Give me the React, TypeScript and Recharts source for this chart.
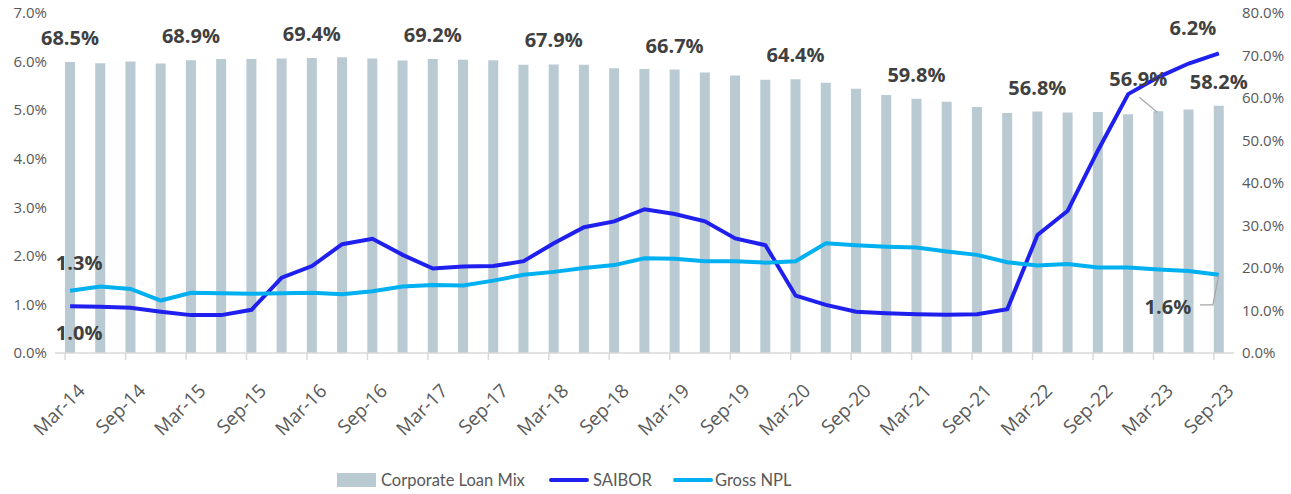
import React from 'react';
import { ComposedChart, Bar, Line, XAxis, YAxis, LabelList, Legend } from 'recharts';

const QUARTERS = [
  'Mar-14', 'Jun-14', 'Sep-14', 'Dec-14',
  'Mar-15', 'Jun-15', 'Sep-15', 'Dec-15',
  'Mar-16', 'Jun-16', 'Sep-16', 'Dec-16',
  'Mar-17', 'Jun-17', 'Sep-17', 'Dec-17',
  'Mar-18', 'Jun-18', 'Sep-18', 'Dec-18',
  'Mar-19', 'Jun-19', 'Sep-19', 'Dec-19',
  'Mar-20', 'Jun-20', 'Sep-20', 'Dec-20',
  'Mar-21', 'Jun-21', 'Sep-21', 'Dec-21',
  'Mar-22', 'Jun-22', 'Sep-22', 'Dec-22',
  'Mar-23', 'Jun-23', 'Sep-23',
];

// Corporate loan mix, % (right axis)
const LOAN_MIX = [
  68.5, 68.2, 68.6, 68.1, 68.9, 69.2, 69.2, 69.3, 69.4, 69.6,
  69.3, 68.8, 69.2, 69.0, 68.9, 67.8, 67.9, 67.8, 67.0, 66.8,
  66.7, 66.0, 65.3, 64.3, 64.4, 63.6, 62.2, 60.7, 59.8, 59.1,
  57.9, 56.5, 56.8, 56.6, 56.7, 56.2, 56.9, 57.3, 58.2,
];

// SAIBOR, % (left axis)
const SAIBOR = [
  0.96, 0.95, 0.93, 0.85, 0.78, 0.78, 0.89, 1.55, 1.79, 2.24,
  2.35, 2.02, 1.74, 1.78, 1.79, 1.89, 2.26, 2.59, 2.71, 2.96,
  2.86, 2.71, 2.36, 2.22, 1.18, 0.99, 0.85, 0.82, 0.8, 0.79,
  0.8, 0.9, 2.43, 2.93, 4.17, 5.33, 5.68, 5.96, 6.17,
];

// Gross NPL ratio, % (left axis)
const GROSS_NPL = [
  1.28, 1.37, 1.32, 1.08, 1.24, 1.23, 1.22, 1.23, 1.24, 1.21,
  1.27, 1.37, 1.4, 1.39, 1.49, 1.61, 1.67, 1.75, 1.81, 1.95,
  1.94, 1.89, 1.89, 1.86, 1.89, 2.26, 2.22, 2.19, 2.17, 2.09,
  2.02, 1.87, 1.8, 1.83, 1.76, 1.76, 1.72, 1.69, 1.61,
];

const LEFT_TICKS = [0, 1, 2, 3, 4, 5, 6, 7];
const RIGHT_TICKS = [0, 10, 20, 30, 40, 50, 60, 70, 80];
const LOAN_LABEL_IDX = [0, 4, 8, 12, 16, 20, 24, 28, 32, 36, 38];

const BAR_COLOR = '#bacad3';
const SAIBOR_COLOR = '#2020ee';
const NPL_COLOR = '#00b0f0';
const TICK_COLOR = '#595959';
const LABEL_COLOR = '#404040';
const AXIS_COLOR = '#d9d9d9';
const FONT = '"Open Sans", sans-serif';

const data = QUARTERS.map((quarter, i) => ({
  quarter,
  loanMix: LOAN_MIX[i],
  saibor: SAIBOR[i],
  npl: GROSS_NPL[i],
}));

const pct = (v: number) => `${v.toFixed(1)}%`;

function pos(props: any) {
  const vb = props.viewBox ?? {};
  return {
    x: Number(props.x ?? vb.x),
    y: Number(props.y ?? vb.y),
    width: Number(props.width ?? vb.width ?? 0),
  };
}

function BigText({ x, y, value, anchor = 'middle' }: { x: number; y: number; value: string; anchor?: string }) {
  return (
    <text
      x={x}
      y={y}
      textAnchor={anchor as any}
      fontFamily={FONT}
      fontSize={20}
      fontWeight={700}
      fill={LABEL_COLOR}
    >
      {value}
    </text>
  );
}

function LoanLabel(props: any) {
  const { index, value } = props;
  if (!LOAN_LABEL_IDX.includes(index)) return null;
  const { x, y, width } = pos(props);
  const cx = x + width / 2;
  if (index === 36) {
    return (
      <g>
        <line x1={cx - 19} y1={y - 14} x2={cx - 1} y2={y + 1} stroke="#a6a6a6" strokeWidth={1.2} />
        <BigText x={cx - 20} y={y - 25} value={pct(value)} />
      </g>
    );
  }
  return <BigText x={cx} y={y - 17} value={pct(value)} />;
}

function SaiborLabel(props: any) {
  const { index, value } = props;
  const { x, y } = pos(props);
  if (index === 0) return <BigText x={x + 9} y={y + 34} value={pct(value)} />;
  if (index === SAIBOR.length - 1) return <BigText x={x - 26} y={y - 18} value={pct(value)} />;
  return null;
}

function NplLabel(props: any) {
  const { index, value } = props;
  const { x, y } = pos(props);
  if (index === 0) return <BigText x={x + 9} y={y - 21} value={pct(value)} />;
  if (index === GROSS_NPL.length - 1) {
    return (
      <g>
        <polyline
          points={`${x},${y} ${x - 6},${y + 30} ${x - 19},${y + 30}`}
          fill="none"
          stroke="#a6a6a6"
          strokeWidth={1.2}
        />
        <BigText x={x - 51} y={y + 39} value={pct(value)} />
      </g>
    );
  }
  return null;
}

function XTick({ x, y, payload }: any) {
  const tx = x - 5;
  const ax = tx + 21;
  const ay = y + 39;
  return (
    <g>
      <line x1={tx} y1={y} x2={tx} y2={y + 7} stroke={AXIS_COLOR} strokeWidth={1.5} />
      <text
        x={ax}
        y={ay}
        textAnchor="end"
        transform={`rotate(-45 ${ax} ${ay})`}
        fontFamily={FONT}
        fontSize={19}
        fill={TICK_COLOR}
      >
        {payload.value}
      </text>
    </g>
  );
}

function LegendContent() {
  const item = { position: 'absolute', top: 0, height: 24, display: 'flex', alignItems: 'center' } as const;
  return (
    <div
      style={{
        position: 'relative',
        height: 24,
        fontFamily: 'Lato, sans-serif',
        fontSize: 16.5,
        color: TICK_COLOR,
        whiteSpace: 'nowrap',
      }}
    >
      <span style={{ ...item, left: 0 }}>
        <span style={{ display: 'inline-block', width: 39, height: 14, background: BAR_COLOR, marginRight: 5 }} />
        Corporate Loan Mix
      </span>
      <span style={{ ...item, left: 212 }}>
        <span style={{ display: 'inline-block', width: 40, height: 4, borderRadius: 2, background: SAIBOR_COLOR, marginRight: 4 }} />
        SAIBOR
      </span>
      <span style={{ ...item, left: 336 }}>
        <span style={{ display: 'inline-block', width: 40, height: 4, borderRadius: 2, background: NPL_COLOR, marginRight: 2 }} />
        Gross NPL
      </span>
    </div>
  );
}

export default function App() {
  return (
    <div style={{ position: 'absolute', left: 0, top: 0, width: 1291, height: 494, background: '#fff' }}>
      <ComposedChart width={1291} height={494} data={data} margin={{ top: 13, right: 0, bottom: 0, left: 0 }}>
        <XAxis
          dataKey="quarter"
          interval={1}
          height={141}
          tick={<XTick />}
          tickLine={false}
          tickSize={0}
          tickMargin={0}
          axisLine={{ stroke: AXIS_COLOR, strokeWidth: 1.5 }}
        />
        <YAxis
          yAxisId="left"
          orientation="left"
          width={55}
          domain={[0, 7]}
          ticks={LEFT_TICKS}
          tickFormatter={pct}
          axisLine={false}
          tickLine={false}
          tickSize={0}
          tickMargin={8}
          tick={{ fill: TICK_COLOR, fontSize: 15, fontFamily: FONT }}
        />
        <YAxis
          yAxisId="right"
          orientation="right"
          width={57}
          domain={[0, 80]}
          ticks={RIGHT_TICKS}
          tickFormatter={pct}
          axisLine={false}
          tickLine={false}
          tickSize={0}
          tickMargin={8}
          tick={{ fill: TICK_COLOR, fontSize: 15, fontFamily: FONT }}
        />
        <Legend
          verticalAlign="middle"
          content={<LegendContent />}
          wrapperStyle={{ left: 337, top: 468, width: 600, height: 24 }}
        />
        <Bar yAxisId="right" dataKey="loanMix" name="Corporate Loan Mix" fill={BAR_COLOR} barSize={10} isAnimationActive={false}>
          <LabelList dataKey="loanMix" content={<LoanLabel />} />
        </Bar>
        <Line
          yAxisId="left"
          type="linear"
          dataKey="saibor"
          name="SAIBOR"
          stroke={SAIBOR_COLOR}
          strokeWidth={4}
          dot={false}
          isAnimationActive={false}
        >
          <LabelList dataKey="saibor" content={<SaiborLabel />} />
        </Line>
        <Line
          yAxisId="left"
          type="linear"
          dataKey="npl"
          name="Gross NPL"
          stroke={NPL_COLOR}
          strokeWidth={4}
          dot={false}
          isAnimationActive={false}
        >
          <LabelList dataKey="npl" content={<NplLabel />} />
        </Line>
      </ComposedChart>
    </div>
  );
}
